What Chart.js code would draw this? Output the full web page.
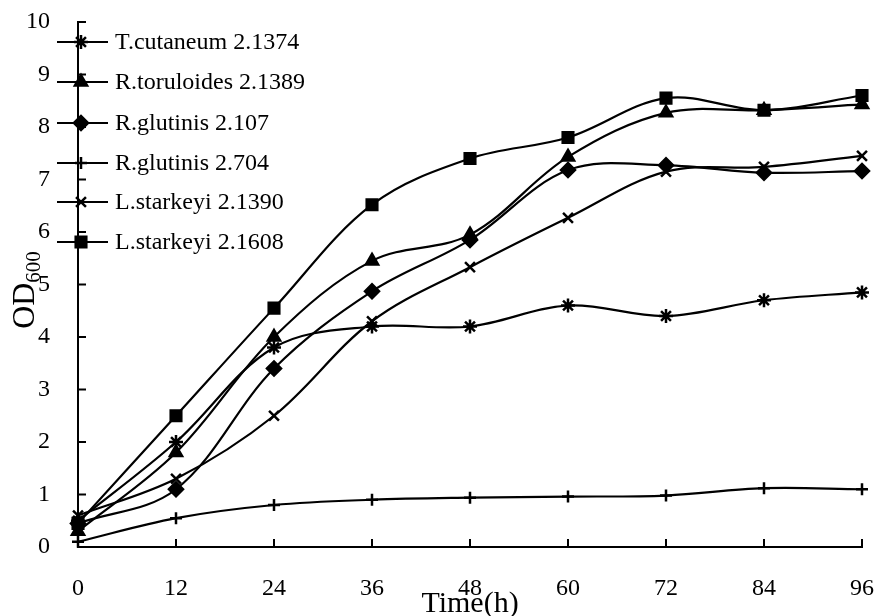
<!DOCTYPE html>
<html lang="en">
  <head>
    <meta charset="UTF-8" />
    <title>OD600 growth curves</title>
    <script src="https://cdn.jsdelivr.net/npm/chart.js"></script>
    <style>
      body { margin: 0; background: #fff; }
      #wrap { width: 877px; height: 616px; }
    </style>
  </head>
  <body>
    <div id="wrap"><canvas id="growthChart"></canvas></div>

    <script>
      // sampling times (h)
      const hours = [0, 12, 24, 36, 48, 60, 72, 84, 96];
      const strainNames = [
        "T.cutaneum 2.1374",
        "R.toruloides 2.1389",
        "R.glutinis 2.107",
        "R.glutinis 2.704",
        "L.starkeyi 2.1390",
        "L.starkeyi 2.1608",
      ];
      // OD600 readings per strain
      const tCutaneum2_1374 = [0.5, 2.0, 3.8, 4.2, 4.2, 4.6, 4.4, 4.7, 4.85];
      const rToruloides2_1389 = [0.3, 1.8, 4.0, 5.45, 5.95, 7.43, 8.27, 8.32, 8.43];
      const rGlutinis2_107 = [0.45, 1.1, 3.4, 4.87, 5.85, 7.18, 7.27, 7.13, 7.16];
      const rGlutinis2_704 = [0.1, 0.55, 0.8, 0.9, 0.94, 0.96, 0.98, 1.12, 1.1];
      const lStarkeyi2_1390 = [0.6, 1.3, 2.5, 4.3, 5.33, 6.27, 7.15, 7.24, 7.45];
      const lStarkeyi2_1608 = [0.45, 2.5, 4.55, 6.52, 7.4, 7.8, 8.55, 8.32, 8.6];
      const yTicks = [0, 1, 2, 3, 4, 5, 6, 7, 8, 9, 10];

      const seriesValues = [
        tCutaneum2_1374,
        rToruloides2_1389,
        rGlutinis2_107,
        rGlutinis2_704,
        lStarkeyi2_1390,
        lStarkeyi2_1608,
      ];
      const markers = [
        { style: "star", r: 7 },
        { style: "triangle", r: 7 },
        { style: "rectRot", r: 7 },
        { style: "cross", r: 6 },
        { style: "crossRot", r: 7 },
        { style: "rect", r: 7.5 },
      ];
      const FONT = "'Liberation Serif', 'Times New Roman', serif";

      const datasets = seriesValues.map((vals, i) => ({
        label: strainNames[i],
        data: vals.map((v, j) => ({ x: hours[j], y: v })),
        borderColor: "#000",
        backgroundColor: "#000",
        borderWidth: 2.2,
        tension: 0.35,
        pointStyle: markers[i].style,
        pointRadius: markers[i].r,
        pointBorderWidth: 2.5,
        pointBorderColor: "#000",
        pointBackgroundColor: "#000",
        clip: false,
      }));

      // inward tick marks, legend on the axis, axis titles
      const decorations = {
        id: "decorations",
        afterDraw(chart) {
          const ctx = chart.ctx;
          const xs = chart.scales.x;
          const ys = chart.scales.y;
          const area = chart.chartArea;
          ctx.save();
          ctx.strokeStyle = "#000";
          ctx.lineWidth = 2;
          yTicks.forEach((t) => {
            const py = ys.getPixelForValue(t);
            ctx.beginPath();
            ctx.moveTo(area.left, py);
            ctx.lineTo(area.left + 8, py);
            ctx.stroke();
          });
          hours.forEach((h) => {
            const px = xs.getPixelForValue(h);
            ctx.beginPath();
            ctx.moveTo(px, area.bottom);
            ctx.lineTo(px, area.bottom - 8);
            ctx.stroke();
          });

          // legend
          const rows = [42, 82, 123, 163, 202, 242];
          strainNames.forEach((name, i) => {
            const y = rows[i];
            ctx.lineWidth = 2.2;
            ctx.beginPath();
            ctx.moveTo(57, y);
            ctx.lineTo(108, y);
            ctx.stroke();
            ctx.lineWidth = 2.5;
            Chart.helpers.drawPoint(
              ctx,
              { pointStyle: markers[i].style, radius: markers[i].r, borderWidth: 2.5 },
              81,
              y
            );
            ctx.fillStyle = "#000";
            ctx.font = "24px " + FONT;
            ctx.textAlign = "left";
            ctx.textBaseline = "middle";
            ctx.fillText(name, 115, y + 1);
          });

          // x title
          ctx.font = "30px " + FONT;
          ctx.textAlign = "center";
          ctx.textBaseline = "alphabetic";
          ctx.fillText("Time(h)", 470, 612);

          // y title with subscript
          ctx.translate(34, 290);
          ctx.rotate(-Math.PI / 2);
          ctx.font = "32px " + FONT;
          const wOD = ctx.measureText("OD").width;
          ctx.font = "21px " + FONT;
          const wSub = ctx.measureText("600").width;
          const start = -(wOD + wSub) / 2;
          ctx.textAlign = "left";
          ctx.font = "32px " + FONT;
          ctx.fillText("OD", start, 0);
          ctx.font = "21px " + FONT;
          ctx.fillText("600", start + wOD, 6);
          ctx.restore();
        },
      };

      const ctx = document.getElementById("growthChart").getContext("2d");
      new Chart(ctx, {
        type: "line",
        data: { datasets: datasets },
        plugins: [decorations],
        options: {
          responsive: true,
          maintainAspectRatio: false,
          animation: false,
          layout: { padding: { left: 0, right: 15, top: 22, bottom: 0 } },
          plugins: {
            legend: { display: false },
            tooltip: { enabled: false },
          },
          scales: {
            x: {
              type: "linear",
              min: 0,
              max: 96,
              grid: { display: false },
              border: { display: true, color: "#000", width: 2 },
              afterFit: (s) => {
                s.height = 69;
                s.paddingLeft = 0;
                s.paddingRight = 0;
              },
              afterBuildTicks: (s) => { s.ticks = hours.map((v) => ({ value: v })); },
              ticks: {
                color: "#000",
                padding: 19,
                maxRotation: 0,
                font: { family: FONT, size: 24 },
              },
            },
            y: {
              min: 0,
              max: 10,
              grid: { display: false },
              border: { display: true, color: "#000", width: 2 },
              afterFit: (s) => {
                s.width = 78;
                s.paddingTop = 0;
                s.paddingBottom = 0;
              },
              afterBuildTicks: (s) => { s.ticks = yTicks.map((v) => ({ value: v })); },
              ticks: {
                color: "#000",
                padding: 20,
                font: { family: FONT, size: 24 },
              },
            },
          },
        },
      });
    </script>
  </body>
</html>
